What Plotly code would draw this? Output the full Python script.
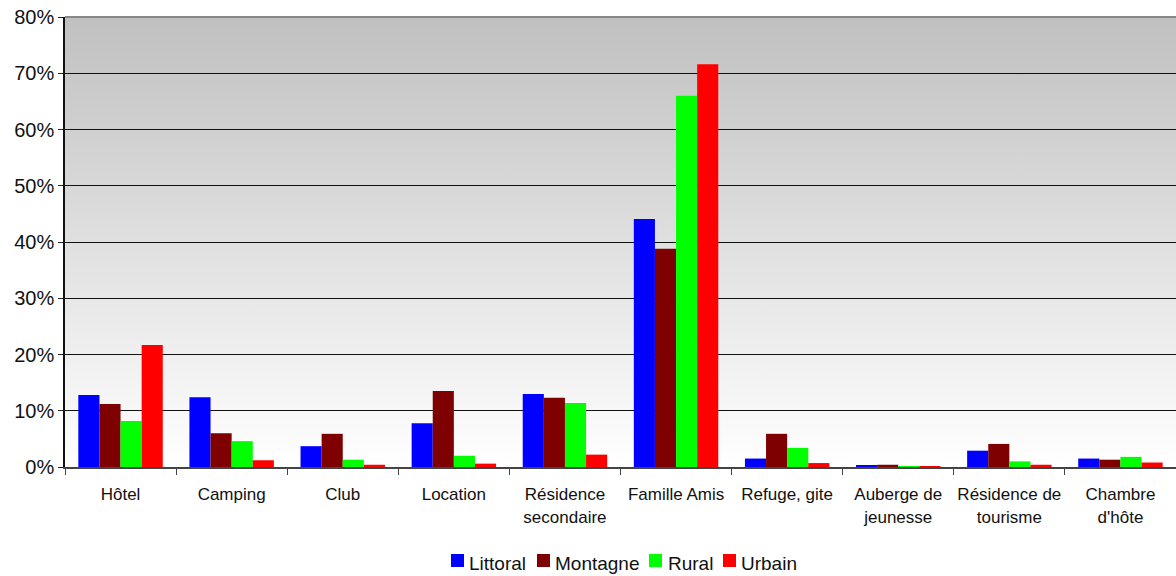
import base64
import plotly.graph_objects as go

# Hébergement par type de destination (part en %)
categories = [
    "Hôtel", "Camping", "Club", "Location", "Résidence<br>secondaire",
    "Famille Amis", "Refuge, gite", "Auberge de<br>jeunesse",
    "Résidence de<br>tourisme", "Chambre<br>d'hôte",
]
littoral = [12.8, 12.4, 3.7, 7.8, 13.0, 44.1, 1.5, 0.25, 2.9, 1.5]
montagne = [11.2, 6.0, 5.9, 13.5, 12.3, 38.8, 5.9, 0.4, 4.1, 1.3]
rural    = [8.2, 4.6, 1.3, 2.0, 11.4, 66.0, 3.4, 0.1, 1.0, 1.8]
urbain   = [21.7, 1.2, 0.4, 0.6, 2.2, 71.6, 0.7, 0.1, 0.4, 0.8]

series_names = ["Littoral", "Montagne", "Rural", "Urbain"]
series_colors = ["#0000FF", "#7F0000", "#00FF00", "#FF0000"]

y_ticks = [0, 10, 20, 30, 40, 50, 60, 70, 80]
y_labels = [f"{v}%" for v in y_ticks]

FONT = "Liberation Sans, Arial, Helvetica, sans-serif"

fig = go.Figure()
for name, vals, color in zip(series_names, [littoral, montagne, rural, urbain], series_colors):
    fig.add_trace(go.Bar(
        name=name, x=categories, y=vals,
        marker=dict(color=color, line=dict(width=0)),
        showlegend=False,
    ))

# Grey-to-white vertical gradient behind the plot area
svg = (
    '<svg xmlns="http://www.w3.org/2000/svg" width="100" height="100" preserveAspectRatio="none">'
    '<defs><linearGradient id="g" x1="0" y1="0" x2="0" y2="1">'
    '<stop offset="0" stop-color="#c0c0c0"/><stop offset="1" stop-color="#ffffff"/>'
    '</linearGradient></defs><rect width="100" height="100" fill="url(#g)"/></svg>'
)
bg_src = "data:image/svg+xml;base64," + base64.b64encode(svg.encode()).decode()

# Legend drawn as coloured squares with labels below the chart
PLOT_L, PLOT_W, PLOT_B, PLOT_H = 65, 1111, 467, 450
def px_x(px):
    return (px - PLOT_L) / PLOT_W
def px_y(py):
    return (PLOT_B - py) / PLOT_H

legend_square_x = [451, 537, 649, 723]
legend_text_x = [467, 553, 666, 739]
LEGEND_MID = 563
shapes = []
annotations = []
for name, color, sx, tx in zip(series_names, series_colors, legend_square_x, legend_text_x):
    shapes.append(dict(
        type="rect", xref="paper", yref="paper",
        x0=px_x(sx), x1=px_x(sx + 13), y0=px_y(LEGEND_MID + 4), y1=px_y(LEGEND_MID - 9),
        fillcolor=color, line=dict(width=0),
    ))
    annotations.append(dict(
        text=name, xref="paper", yref="paper", x=px_x(tx), y=px_y(LEGEND_MID),
        xanchor="left", yanchor="middle", showarrow=False,
        font=dict(size=19, color="#111111", family=FONT),
    ))

# Top border of the plot area
shapes.append(dict(
    type="line", xref="paper", yref="paper", x0=0, x1=1, y0=1, y1=1,
    line=dict(color="#878787", width=2), layer="above",
))

fig.update_layout(
    width=1176, height=576,
    margin=dict(l=65, r=0, t=17, b=109, autoexpand=False),
    paper_bgcolor="white",
    plot_bgcolor="rgba(0,0,0,0)",
    barmode="group",
    bargap=0.24,
    bargroupgap=0,
    font=dict(family=FONT, color="#111111"),
    shapes=shapes,
    annotations=annotations,
    images=[dict(
        source=bg_src, xref="paper", yref="paper", x=0, y=1,
        sizex=1, sizey=1, xanchor="left", yanchor="top",
        sizing="stretch", layer="below", opacity=1,
    )],
    showlegend=False,
)

fig.update_xaxes(
    type="category",
    tickson="boundaries",
    ticks="outside", ticklen=6, tickcolor="#444444", tickwidth=1,
    showline=True, linecolor="#444444", linewidth=2,
    showgrid=False,
    tickangle=0,
    tickfont=dict(size=17, color="#111111"),
    ticklabelstandoff=11,
    automargin=False,
    range=[-0.5, 9.5],
)
fig.update_yaxes(
    range=[0, 80],
    tickvals=y_ticks, ticktext=y_labels,
    ticks="outside", ticklen=5, tickcolor="#222222",
    showline=True, linecolor="#111111", linewidth=1.5,
    showgrid=True, gridcolor="#111111", gridwidth=1,
    zeroline=False,
    tickfont=dict(size=20, color="#111111"),
    automargin=False,
)

fig.write_html("out.html")
